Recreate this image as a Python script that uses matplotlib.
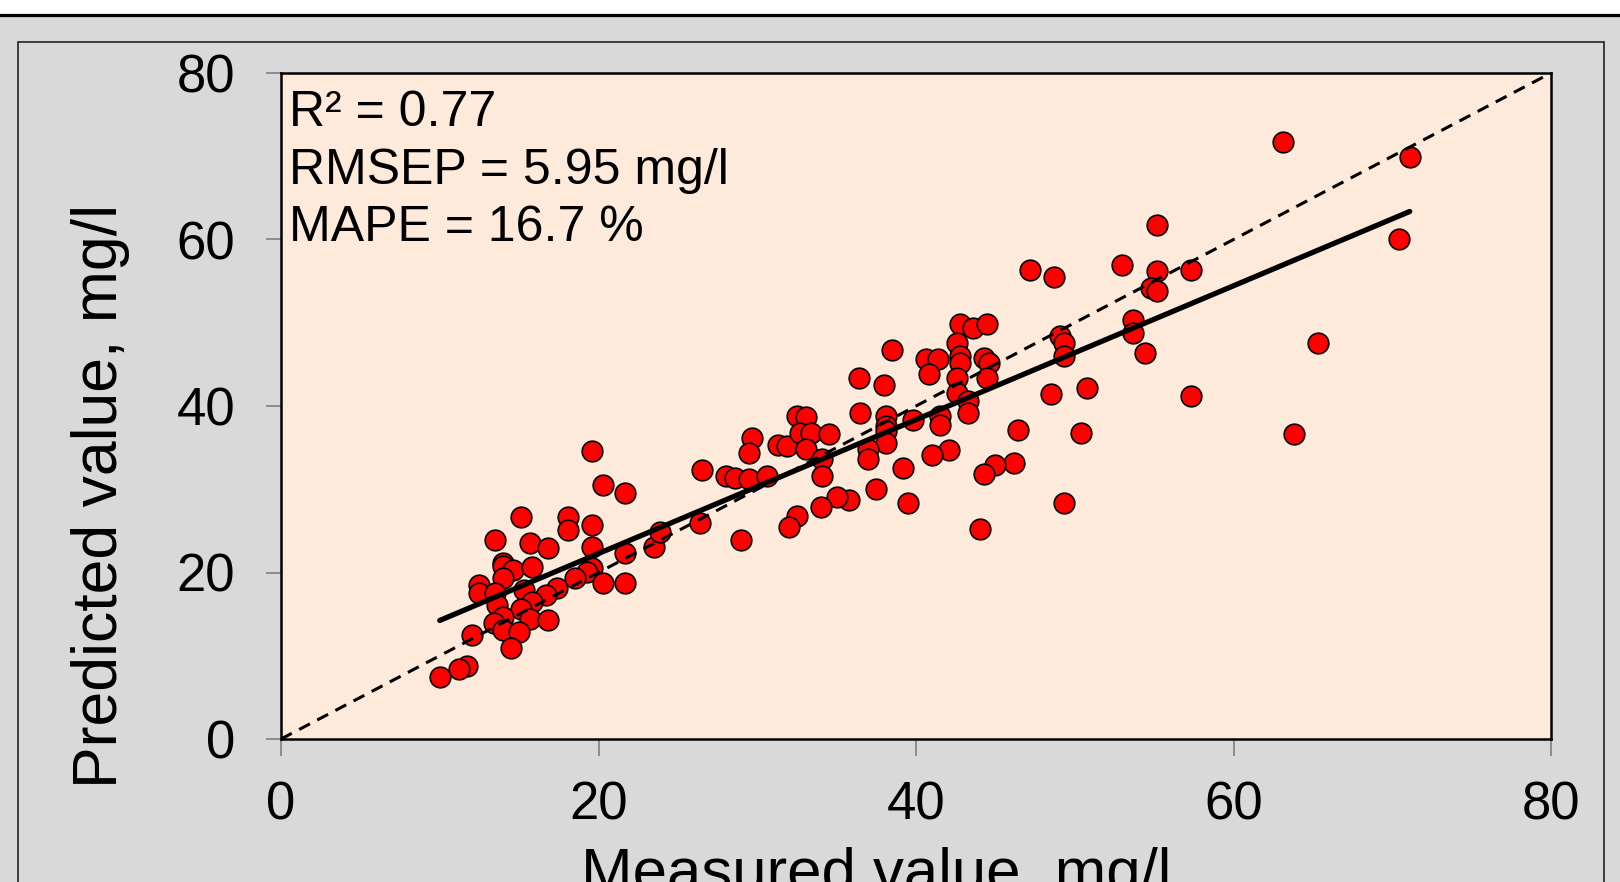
import matplotlib
matplotlib.use("Agg")
import matplotlib.pyplot as plt
from matplotlib.patches import Rectangle
from matplotlib.lines import Line2D
import numpy as np

plt.rcParams['font.family'] = ['Liberation Sans', 'DejaVu Sans']

measured = [19.6, 20.3, 21.7, 15.1, 18.1, 18.1, 19.6, 13.5, 15.7, 16.8, 19.6, 21.7, 23.5, 23.9,
            14.0, 14.0, 14.6, 15.8, 14.0, 12.5, 12.5, 19.6, 19.3, 20.3, 21.7, 18.5, 17.4, 16.7,
            15.3, 13.5, 13.6, 15.8, 15.1, 14.0, 13.4, 15.7, 16.8, 14.0, 15.0, 14.5, 12.0, 11.7,
            11.2, 10.0,
            38.5, 36.4, 38.0, 42.8, 43.6, 44.5, 42.6, 40.6, 41.4, 40.8, 42.8, 42.8, 44.3, 44.6,
            42.6, 44.5, 42.6, 43.3, 43.3, 49.1, 49.3, 49.3, 48.5, 50.8, 46.4, 50.4, 46.2, 45.0,
            44.3, 49.3, 44.0, 41.5, 41.5, 39.8, 42.1, 41.0, 39.2, 39.5, 36.5, 38.1, 38.1, 38.1,
            38.1, 37.0, 37.0, 37.5, 35.8, 35.0, 34.0, 32.5, 32.0, 29.0, 26.4, 26.5, 28.0, 28.6,
            29.5, 30.6, 29.7, 29.5, 31.3, 31.9, 32.5, 33.1, 32.7, 33.4, 34.5, 33.1, 34.1, 34.1,
            63.1, 71.1, 70.4, 55.2, 47.2, 48.7, 53.0, 55.2, 57.3, 54.8, 55.2, 53.7, 53.7, 54.4,
            65.3, 57.3, 63.8]
predicted = [34.6, 30.5, 29.6, 26.7, 26.7, 25.1, 25.7, 23.9, 23.6, 22.9, 23.1, 22.3, 23.1, 24.9,
             21.1, 20.8, 20.3, 20.7, 19.3, 18.5, 17.5, 20.5, 20.1, 18.7, 18.7, 19.3, 18.1, 17.3,
             17.9, 17.5, 16.1, 16.5, 15.6, 14.7, 13.9, 14.4, 14.3, 13.1, 12.9, 10.9, 12.5, 8.8,
             8.4, 7.5,
             46.7, 43.4, 42.5, 49.9, 49.4, 49.8, 47.6, 45.7, 45.6, 43.8, 46.0, 45.2, 45.8, 45.2,
             43.4, 43.4, 41.6, 40.6, 39.2, 48.4, 47.6, 46.0, 41.5, 42.2, 37.1, 36.8, 33.2, 32.9,
             31.8, 28.4, 25.2, 38.8, 37.7, 38.3, 34.7, 34.1, 32.6, 28.3, 39.2, 38.8, 37.6, 37.0,
             35.5, 34.8, 33.6, 30.0, 28.7, 29.1, 27.9, 26.8, 25.5, 23.9, 26.0, 32.3, 31.6, 31.4,
             31.2, 31.6, 36.1, 34.4, 35.3, 35.2, 38.8, 38.7, 36.8, 36.7, 36.6, 34.8, 33.6, 31.6,
             71.7, 69.9, 60.1, 61.7, 56.3, 55.5, 56.9, 56.2, 56.3, 54.2, 53.8, 50.3, 48.8, 46.4,
             47.6, 41.2, 36.6]

fit_slope = 0.804
fit_intercept = 6.2
identity = [0, 80]
ticks = [0, 20, 40, 60, 80]
stats_lines = ["R\u00b2 = 0.77", "RMSEP = 5.95 mg/l", "MAPE = 16.7 %"]
xlabel = "Measured value, mg/l"
ylabel = "Predicted value, mg/l"

W, H = 1620, 882
fig = plt.figure(figsize=(W / 100, H / 100), dpi=100)
fig.patch.set_facecolor('#d9d9d9')

# top white strip and black rule
fig.patches.append(Rectangle((0, 1 - 14 / H), 1, 14 / H, transform=fig.transFigure,
                             facecolor='white', edgecolor='none', zorder=0))
fig.lines.append(Line2D([0, 1], [1 - 14.5 / H, 1 - 14.5 / H], transform=fig.transFigure,
                        color='black', lw=2.3))
# inner chart frame
fig.patches.append(Rectangle((17.5 / W, -0.05), (1604 - 17.5) / W, 1.05 - 42 / H,
                             transform=fig.transFigure, facecolor='none',
                             edgecolor='#222222', lw=1.2))

ax = fig.add_axes([281 / W, (H - 739) / H, 1270 / W, 666 / H])
ax.set_facecolor('#fdeadb')
ax.set_xlim(0, 80)
ax.set_ylim(0, 80)
ax.set_xticks(ticks)
ax.set_yticks(ticks)
ax.tick_params(axis='both', direction='out', colors='#808080', labelcolor='black',
               labelsize=38, width=1.2)
ax.tick_params(axis='x', length=12, pad=18)
ax.tick_params(axis='y', length=11, pad=22)
for s in ax.spines.values():
    s.set_color('black')
    s.set_linewidth(1.8)

ax.scatter(measured, predicted, s=220, facecolor='#ff0000', edgecolor='black',
           linewidth=1.2, zorder=3)
ax.plot(identity, identity, color='black', lw=2.2, dashes=(4, 2.7), zorder=4)
xf = np.array([min(measured), max(measured)])
ax.plot(xf, fit_slope * xf + fit_intercept, color='black', lw=3.8,
        solid_capstyle='round', zorder=5)

base_y = [0.920, 0.833, 0.748]
for txt, yb in zip(stats_lines, base_y):
    ax.text(0.0063, yb, txt, transform=ax.transAxes, fontsize=36, va='baseline',
            ha='left', zorder=6)

fig.text(100 / W, (H - 496) / H, ylabel, rotation=90, ha='center', va='center',
         fontsize=45)
fig.text(876 / W, (H - 891) / H, xlabel, ha='center', va='baseline', fontsize=44.5)

fig.savefig('out.png', dpi=100, facecolor=fig.get_facecolor())
